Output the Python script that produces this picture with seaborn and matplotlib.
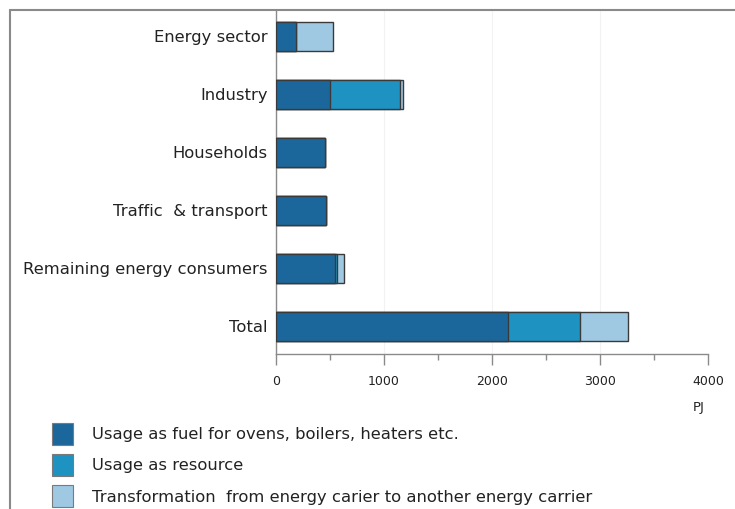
import matplotlib
matplotlib.use("Agg")
import matplotlib.pyplot as plt
from matplotlib.patches import Patch
from matplotlib.lines import Line2D
import numpy as np
import pandas as pd
import seaborn as sns

# Energy use by sector, PJ
sectors = ["Energy sector", "Industry", "Households", "Traffic  & transport",
           "Remaining energy consumers", "Total"]
fuel = [185, 500, 450, 465, 550, 2150]
resource = [0, 650, 0, 0, 15, 665]
transformation = [340, 25, 0, 0, 65, 440]

series_labels = ["Usage as fuel for ovens, boilers, heaters etc.",
                 "Usage as resource",
                 "Transformation  from energy carier to another energy carrier"]
colors = ["#1b679c", "#1e93c2", "#9fc8e2"]
x_ticks = [0, 1000, 2000, 3000, 4000]
unit = "PJ"

df = pd.DataFrame({"sector": sectors, "fuel": fuel,
                   "resource": resource, "transformation": transformation})
df["c1"] = df["fuel"]
df["c2"] = df["c1"] + df["resource"]
df["c3"] = df["c2"] + df["transformation"]

sns.set_theme(style="white")
plt.rcParams["font.family"] = ["DejaVu Sans"]

fig = plt.figure(figsize=(7.35, 5.09), dpi=100)
ax = fig.add_axes([276 / 735, 1 - 354 / 509, (708 - 276) / 735, (354 - 10) / 509])

# stacked bars drawn as overlapping cumulative totals
for col, color in zip(["c3", "c2", "c1"], colors[::-1]):
    sns.barplot(data=df, x=col, y="sector", orient="h", color=color,
                width=0.5, edgecolor="#3a3a3a", linewidth=1.0,
                saturation=1, ax=ax, zorder=3)

ax.set_xlim(0, 4000)
ax.set_ylim(5.48, -0.45)
ax.set_xticks(x_ticks)
ax.set_xticklabels([str(t) for t in x_ticks])
ax.set_xticks(np.arange(500, 4000, 1000), minor=True)
ax.set_xlabel("")
ax.set_ylabel("")
ax.grid(axis="x", color="#f2f2f2", linewidth=0.8, zorder=0)
ax.set_axisbelow(True)

for s in ["top", "right"]:
    ax.spines[s].set_visible(False)
for s in ["left", "bottom"]:
    ax.spines[s].set_color("#8a8a8a")
    ax.spines[s].set_linewidth(1.0)

ax.tick_params(axis="y", length=0, pad=6, labelsize=11.8, labelcolor="#222222")
ax.tick_params(axis="x", which="major", direction="out", length=8, width=1,
               color="#8a8a8a", pad=7, labelsize=9, labelcolor="#222222",
               bottom=True)
ax.tick_params(axis="x", which="minor", direction="out", length=4.5, width=1,
               color="#8a8a8a", bottom=True)

fig.text(699 / 735, 1 - 407 / 509, unit, ha="center", va="center",
         fontsize=9.5, color="#222222")

# outer frame
fig.add_artist(Line2D([10 / 735, 1.0], [1 - 10 / 509, 1 - 10 / 509],
                      transform=fig.transFigure, color="#8a8a8a", linewidth=1.5))
fig.add_artist(Line2D([10 / 735, 10 / 735], [1 - 10 / 509, 0.0],
                      transform=fig.transFigure, color="#8a8a8a", linewidth=1.5))

handles = [Patch(facecolor=c, edgecolor="#7a7a7a", linewidth=0.8) for c in colors]
fig.legend(handles, series_labels, loc="upper left",
           bbox_to_anchor=(52 / 735, 1 - 423 / 509), frameon=False,
           fontsize=11.8, handlelength=1.3, handleheight=1.67,
           handletextpad=1.15, labelspacing=0.57, borderpad=0, borderaxespad=0,
           labelcolor="#222222")

fig.savefig("out.png", dpi=100)
